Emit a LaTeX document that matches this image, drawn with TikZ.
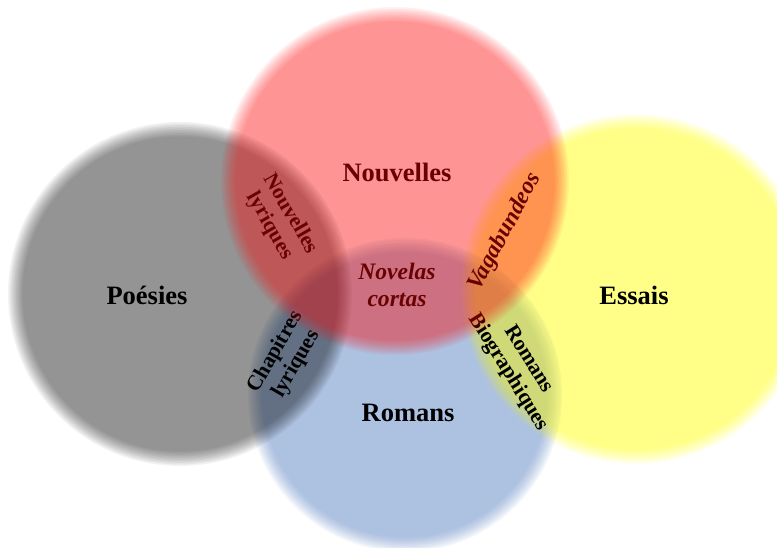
\documentclass[tikz,border=0pt]{standalone}
\usepackage{fontspec}
\setmainfont{Liberation Serif}

\definecolor{romansblue}{RGB}{97,137,201}
\definecolor{nouvred}{RGB}{255,16,16}
\definecolor{essaisyellow}{RGB}{255,255,0}

% soft edged disc: ten rings of the same colour stacked, #1 centre, #2 radius, #3 colour, #4 opacity of one ring
\newcommand{\softdisc}[4]{%
    \foreach \k in {0,...,9}
        \fill[#3, fill opacity=#4] #1 circle[radius={#2+8-1.6*\k}];
}

\begin{document}
\begin{tikzpicture}[x=0.5pt, y=-0.5pt]
    % Define styles
    \tikzset{
        biglabel/.style={font=\fontsize{13.25}{15}\selectfont\bfseries},
        smalllabel/.style={font=\fontsize{10.75}{12}\selectfont\bfseries, align=center},
        slantlabel/.style={font=\fontsize{11.8}{13.2}\selectfont\bfseries\itshape, align=center}
    }
    \useasboundingbox[fill=white] (0,0) rectangle (777,547);

    % Circles below the labels
    \softdisc{(405,395)}{149}{romansblue}{0.067}
    \softdisc{(180,294)}{164}{black}{0.0498}
    \softdisc{(636,289)}{167}{essaisyellow}{0.058}

    % Labels
    \node[biglabel] (poesies) at (147,295) {Poésies};
    \node[biglabel] (essais) at (634,295) {Essais};
    \node[biglabel] (romans) at (408,413) {Romans};
    \node[biglabel] (nouvelles) at (397,172) {Nouvelles};
    \node[slantlabel] (novelas) at (397,285) {Novelas\\cortas};
    \node[smalllabel, rotate=-60] (nouvlyr) at (280,220) {Nouvelles\\lyriques};
    \node[smalllabel, rotate=60] (chapitres) at (286,358) {Chapitres\\lyriques};
    \node[slantlabel, rotate=62] (vagab) at (505,232) {Vagabundeos};
    \node[smalllabel, rotate=-58] (romansbio) at (518,366) {Romans\\Biographiques};

    % Red circle on top, it tints the labels below it
    \softdisc{(395,181)}{166}{nouvred}{0.0563}
\end{tikzpicture}
\end{document}
